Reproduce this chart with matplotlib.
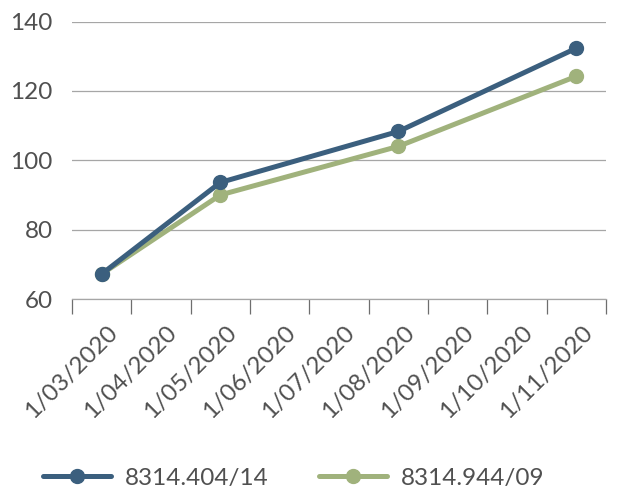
import matplotlib
matplotlib.use("Agg")
import matplotlib.pyplot as plt
from matplotlib.transforms import ScaledTranslation
import numpy as np

months = ["1/03/2020", "1/04/2020", "1/05/2020", "1/06/2020", "1/07/2020",
          "1/08/2020", "1/09/2020", "1/10/2020", "1/11/2020"]
point_months = ["1/03/2020", "1/05/2020", "1/08/2020", "1/11/2020"]
series_a_name = "8314.404/14"
series_b_name = "8314.944/09"
series_a = [67.2, 93.6, 108.3, 132.3]
series_b = [67.2, 90.0, 104.0, 124.2]
yticks = [60, 80, 100, 120, 140]

blue = "#3b5f7e"
green = "#a0b27c"
text_col = "#505050"
grid_col = "#a6a6a6"
fs = 17.5

plt.rcParams['font.family'] = ['Lato', 'DejaVu Sans']

fig = plt.figure(figsize=(6.19, 4.88), dpi=100)
ax = fig.add_axes([72/619, 1-299/488, (606-72)/619, (299-21.5)/488])

xs = [months.index(m) for m in point_months]
ax.plot(xs, series_a, color=blue, lw=3.6, marker='o', ms=10, label=series_a_name,
        clip_on=False, solid_capstyle='round', zorder=3)
ax.plot(xs, series_b, color=green, lw=3.6, marker='o', ms=10, label=series_b_name,
        clip_on=False, solid_capstyle='round', zorder=2)

ax.set_xlim(-0.5, len(months) - 0.5)
ax.set_ylim(60, 140)
ax.set_yticks(yticks)
ax.set_yticklabels([str(v) for v in yticks])
ax.yaxis.grid(True, color=grid_col, lw=0.9)
ax.set_axisbelow(True)

ax.set_xticks(np.arange(-0.5, len(months), 1.0))
ax.set_xticklabels([])
ax.set_xticks(np.arange(len(months)), minor=True)
ax.set_xticklabels(months, minor=True, rotation=45, ha='right', va='top',
                   rotation_mode='anchor', fontsize=fs, color=text_col)
ax.tick_params(axis='x', which='major', length=10.8, width=0.9, color='#6e6e6e', direction='out')
ax.tick_params(axis='x', which='minor', length=0, pad=16.5)
ax.tick_params(axis='y', length=0, pad=14, labelsize=fs, labelcolor=text_col)
offset = ScaledTranslation(5/100, 0, fig.dpi_scale_trans)
for lab in ax.get_xticklabels(minor=True):
    lab.set_transform(lab.get_transform() + offset)

for s in ['left', 'right', 'top']:
    ax.spines[s].set_visible(False)
ax.spines['bottom'].set_color(grid_col)
ax.spines['bottom'].set_linewidth(0.9)

leg = fig.legend(loc='center', bbox_to_anchor=(294/619, 1-478/488), ncol=2, frameon=False,
                 fontsize=fs, handlelength=2.8, handletextpad=0.58, columnspacing=2.06,
                 borderaxespad=0, borderpad=0)
for t in leg.get_texts():
    t.set_color(text_col)

fig.savefig("out.png", dpi=100)
